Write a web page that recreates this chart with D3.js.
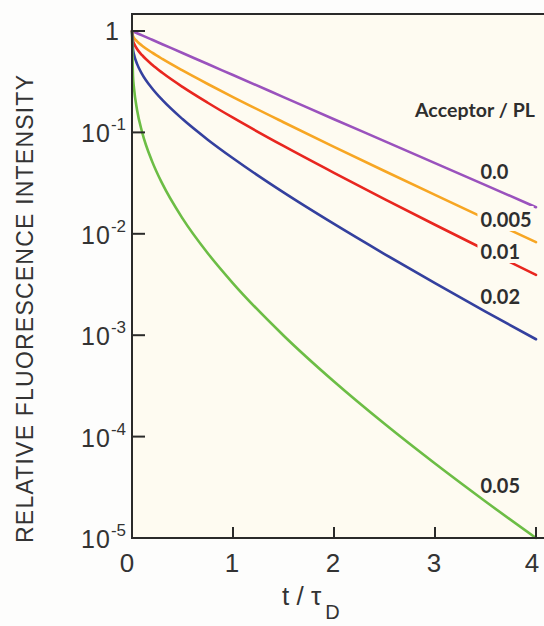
<!DOCTYPE html>
<html>
<head>
<meta charset="utf-8">
<script src="https://cdn.jsdelivr.net/npm/d3@7"></script>
<style>
  html, body { margin: 0; padding: 0; background: #fdfdfc; }
  svg { display: block; }
</style>
</head>
<body>
<svg id="chart" width="544" height="626"></svg>
<script>
// ---- data ----
const times = [0, 0.01, 0.02, 0.05, 0.1, 0.2, 0.3, 0.5, 0.75, 1, 1.5, 2, 2.5, 3, 3.5, 4];
const seriesNames = ["0.0", "0.005", "0.01", "0.02", "0.05"];
const seriesColors = ["#9a52bd", "#f7a623", "#e8261f", "#34409e", "#6cbd45"];
const valuesA0    = [1, 0.990, 0.980, 0.951, 0.905, 0.819, 0.741, 0.607, 0.472, 0.368, 0.223, 0.135, 0.0821, 0.0498, 0.0302, 0.0183];
const valuesA005  = [1, 0.889, 0.856, 0.791, 0.717, 0.611, 0.530, 0.408, 0.300, 0.223, 0.126, 0.0721, 0.0416, 0.0242, 0.01413, 0.00828];
const valuesA01   = [1, 0.803, 0.753, 0.665, 0.577, 0.464, 0.387, 0.281, 0.196, 0.1395, 0.0735, 0.0399, 0.0220, 0.01228, 0.00692, 0.00393];
const valuesA02   = [1, 0.659, 0.587, 0.474, 0.376, 0.271, 0.209, 0.1353, 0.0848, 0.0556, 0.0256, 0.01251, 0.00632, 0.00326, 0.00171, 0.000912];
const valuesA05   = [1, 0.357, 0.2715, 0.1666, 0.1007, 0.0515, 0.0312, 0.0142, 0.00643, 0.00325, 0.000993, 0.000349, 0.0001336, 0.0000542, 0.0000229, 0.0000100];
const allValues = [valuesA0, valuesA005, valuesA01, valuesA02, valuesA05];
const xTicks = [0, 1, 2, 3, 4];
const yTicks = [1, 1e-1, 1e-2, 1e-3, 1e-4, 1e-5];
const yTickExps = ["", "-1", "-2", "-3", "-4", "-5"];
const labelT = [3.45, 3.45, 3.45, 3.45, 3.45];
const legendTitle = "Acceptor / PL";

// ---- layout ----
const svg = d3.select("#chart");
const left = 132, right = 536, bottom = 538, topTick = 31, frameTop = 14;
const x = d3.scaleLinear().domain([0, 4]).range([left, right]);
const y = d3.scaleLog().domain([1e-5, 1]).range([bottom, topTick]);

// plot background
svg.append("rect").attr("x", left).attr("y", frameTop)
  .attr("width", 544 - left).attr("height", bottom - frameTop)
  .attr("fill", "#fefbf1");

// curves
const line = d3.line().curve(d3.curveMonotoneX)
  .x(d => x(d[0])).y(d => y(d[1]));
const curves = svg.append("g");
allValues.forEach((vals, i) => {
  curves.append("path")
    .datum(times.map((t, j) => [t, vals[j]]))
    .attr("d", line)
    .attr("fill", "none")
    .attr("stroke", seriesColors[i])
    .attr("stroke-width", 2.6)
    .attr("stroke-linecap", "round");
});

// curve labels
const labelFont = "Lato, 'Noto Sans', sans-serif";
const lab = svg.append("g").attr("font-family", labelFont).attr("font-weight", 700)
  .attr("font-size", 20).attr("fill", "#2e2e2e");
const labelHalo = [false, true, true, false, false];
const labelY = [179, 227, 259, 304, 493];
seriesNames.forEach((name, i) => {
  const g = lab.append("g");
  const t = g.append("text").attr("x", x(labelT[i])).attr("y", labelY[i]).text(name);
  if (labelHalo[i]) {
    const bb = t.node().getBBox();
    g.insert("rect", "text").attr("x", bb.x - 3).attr("y", bb.y - 1)
      .attr("width", bb.width + 5).attr("height", bb.height + 1).attr("fill", "#fefbf1");
  }
});
lab.append("text").attr("x", 415).attr("y", 117).attr("font-size", 19.5)
  .attr("textLength", 120).attr("lengthAdjust", "spacing").text(legendTitle);

// axes frame
const ax = svg.append("g").attr("stroke", "#2a2a2a").attr("stroke-width", 2).attr("fill", "none");
ax.append("line").attr("x1", left).attr("x2", left).attr("y1", frameTop).attr("y2", bottom + 1);
ax.append("line").attr("x1", left - 1).attr("x2", 544).attr("y1", bottom).attr("y2", bottom);
ax.append("line").attr("x1", left - 1).attr("x2", 544).attr("y1", frameTop).attr("y2", frameTop);

// ticks
yTicks.forEach(v => {
  if (v === 1e-5) return;
  ax.append("line").attr("x1", left).attr("x2", left + 13).attr("y1", y(v)).attr("y2", y(v));
});
xTicks.forEach(v => {
  if (v === 0) return;
  ax.append("line").attr("x1", x(v)).attr("x2", x(v)).attr("y1", bottom).attr("y2", bottom - 11);
});

// tick labels
const tickFont = "'Liberation Sans', Arial, sans-serif";
const tl = svg.append("g").attr("font-family", tickFont).attr("fill", "#333");
yTicks.forEach((v, i) => {
  if (v === 1) {
    tl.append("text").attr("x", 119).attr("y", y(v) + 9).attr("text-anchor", "end")
      .attr("font-size", 25).text("1");
  } else {
    const t = tl.append("text").attr("x", 126).attr("y", y(v) + 10).attr("text-anchor", "end")
      .attr("font-size", 25);
    t.append("tspan").attr("letter-spacing", 1).text("10");
    t.append("tspan").attr("dy", -12).attr("font-size", 17).text(yTickExps[i]);
  }
});
xTicks.forEach(v => {
  tl.append("text").attr("x", x(v) - (v === 0 ? 5 : v === 4 ? 4 : 1)).attr("y", 572)
    .attr("text-anchor", "middle").attr("font-size", 26).text(String(v));
});

// axis titles
tl.append("text")
  .attr("transform", "translate(33,309) rotate(-90)")
  .attr("text-anchor", "middle").attr("font-size", 23)
  .attr("textLength", 468).attr("lengthAdjust", "spacing")
  .text("RELATIVE  FLUORESCENCE  INTENSITY");
const xt = tl.append("text").attr("x", 282).attr("y", 605).attr("font-size", 26);
xt.append("tspan").text("t / τ");
xt.append("tspan").attr("dy", 14).attr("dx", 4).attr("font-size", 20).text("D");
</script>
</body>
</html>
